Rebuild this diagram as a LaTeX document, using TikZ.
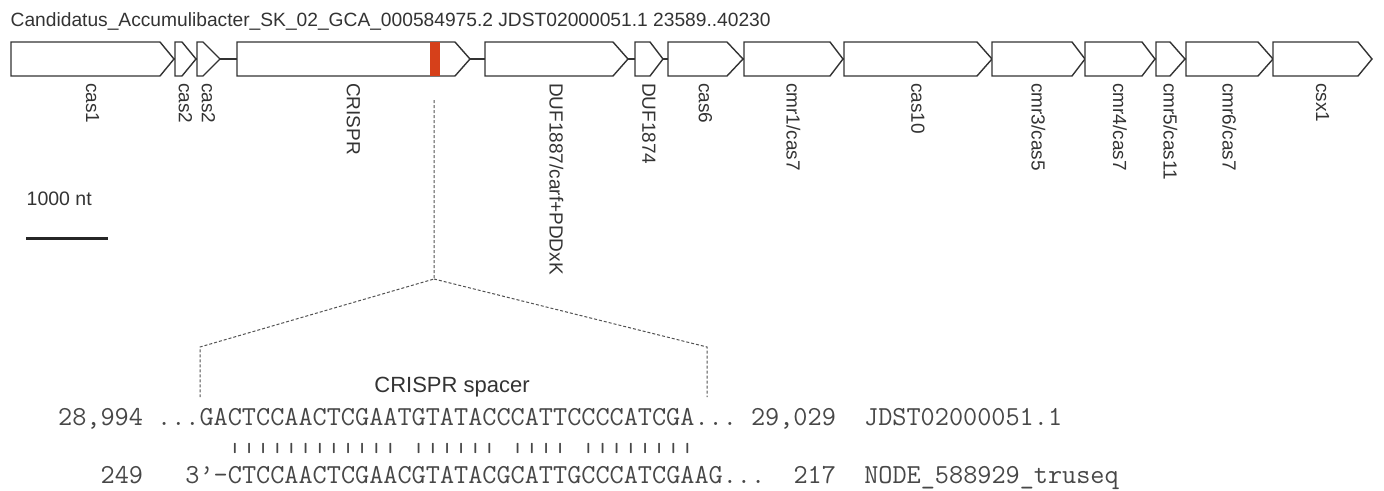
\documentclass[tikz,border=0pt]{standalone}
\usepackage{fontspec}
\setmainfont{Liberation Sans}
\usepackage{graphicx}
\definecolor{inkgray}{HTML}{333333}
\definecolor{spacerred}{RGB}{214,64,26}
\newcommand{\seqfont}{\ttfamily\fontsize{27.46}{30}\selectfont\frenchspacing}

\begin{document}
\begin{tikzpicture}[x=1pt, y=-1pt,
    gene/.style={draw=inkgray, fill=white, line width=1.4pt},
    genelabel/.style={rotate=-90, anchor=west, inner sep=0pt, text=inkgray,
                      font=\fontsize{19}{23}\selectfont},
    callout/.style={draw=inkgray!85, dash pattern=on 3pt off 2pt, line width=1pt},
    seqline/.style={anchor=base west, inner sep=0pt, text=inkgray!90, font=\seqfont}]
  \useasboundingbox (0,0) rectangle (1384,490);

  \node[anchor=base west, inner sep=0pt, text=inkgray,
        font=\fontsize{19.2}{23}\selectfont] (title) at (10.5,26)
    {Candidatus\_Accumulibacter\_SK\_02\_GCA\_000584975.2 JDST02000051.1 23589..40230};

  % locus backbone and genes
  \draw[inkgray, line width=2.5pt] (174,59) -- (1372,59);
  \foreach \a/\b/\c/\lbl [count=\i] in {11/160/174/cas1, 175/182/196/cas2,
      197/203/220/cas2, 237/455/470/CRISPR, 485/613/628/{DUF1887/carf+PDDxK},
      635/650/663/DUF1874, 668/727/743/cas6, 744/830/843/{cmr1/cas7},
      844/977/992/cas10, 992/1072/1085/{cmr3/cas5}, 1085/1142/1155/{cmr4/cas7},
      1156/1170/1185/{cmr5/cas11}, 1186/1258/1273/{cmr6/cas7}, 1273/1358/1372/csx1}{
    \draw[gene] (\a,42) -- (\b,42) -- (\c,59) -- (\b,76) -- (\a,76) -- cycle;
    \node[genelabel] (lbl\i) at ({(\a+\c)/2},83) {\lbl};
  }
  \fill[spacerred] (430,42) rectangle (440,76);

  % scale
  \node[anchor=base west, inner sep=0pt, text=inkgray,
        font=\fontsize{19.5}{23}\selectfont] (scale) at (26.5,205) {1000 nt};
  \draw[black!85, line width=3pt] (26,238) -- (108,238);

  % zoom onto the spacer
  \coordinate (mark) at (434,100);
  \coordinate (apex) at (434,279);
  \coordinate (lcorner) at (200,347);
  \coordinate (rcorner) at (707,347);
  \coordinate (lend) at (200,397);
  \coordinate (rend) at (707,397);
  \draw[callout] (mark) -- (apex) -- (lcorner) -- (lend);
  \draw[callout] (apex) -- (rcorner) -- (rend);
  \node[anchor=base, inner sep=0pt, text=inkgray,
        font=\fontsize{22}{26}\selectfont] (spacer) at (452,392) {CRISPR spacer};

  \node[seqline] (target) at (58,425)
    {28,994~...GACTCCAACTCGAATGTATACCCATTCCCCATCGA...~29,029~~JDST02000051.1};
  \node[seqline] (pairs) at (58,452)
    {\scalebox{1}[0.48]{~~~~~~~~~~~~||||||||||||~||||||~||||~||||||||}};
  \node[seqline] (query) at (58,483)
    {~~~249~~~3’-CTCCAACTCGAACGTATACGCATTGCCCATCGAAG...~~217~~NODE\_588929\_truseq};
\end{tikzpicture}
\end{document}
